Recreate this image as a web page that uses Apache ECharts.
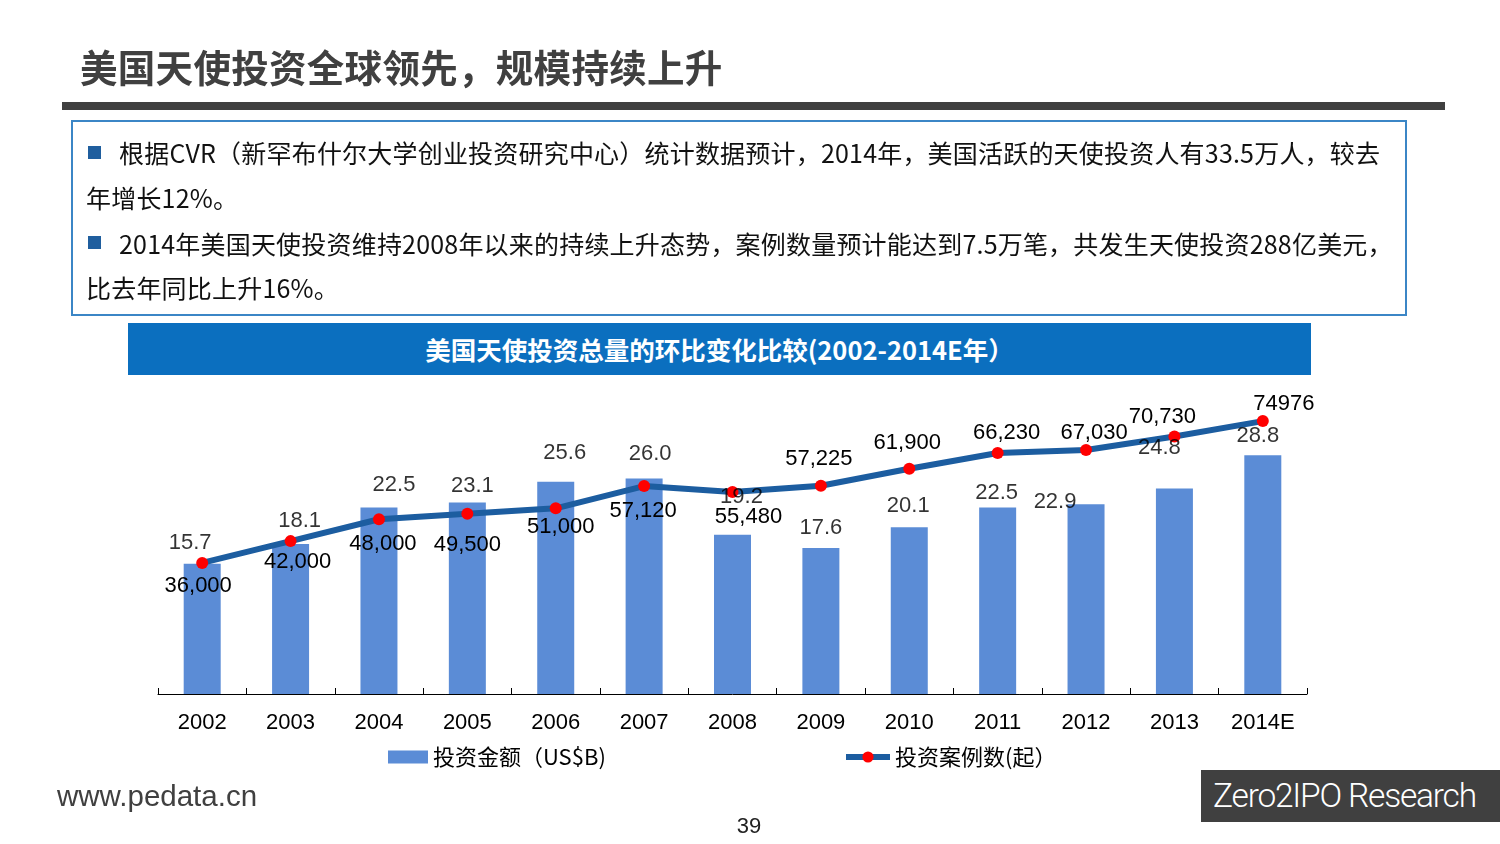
<!DOCTYPE html>
<html><head><meta charset="utf-8">
<script src="https://cdn.jsdelivr.net/npm/echarts@6/dist/echarts.min.js"></script>
<style>
html,body{margin:0;padding:0;width:1500px;height:844px;background:#fff;overflow:hidden;}
#chart{position:absolute;left:0;top:0;width:1500px;height:844px;}
.abs{position:absolute;white-space:nowrap;}
#title{left:80px;top:44px;font:bold 37.5px/44px "Noto Sans CJK SC",sans-serif;color:#404040;letter-spacing:0.3px;}
#rule{left:62px;top:102px;width:1383px;height:8px;background:#404040;}
#box{left:71px;top:120px;width:1332px;height:192px;border:2px solid #3B86C6;}
.ln{position:absolute;white-space:nowrap;font:25px/30px "Noto Sans CJK SC",sans-serif;color:#111;letter-spacing:0.2px;}
.bul{position:absolute;width:13px;height:13px;background:#1F5E9E;}
#hdr{left:128px;top:323px;width:1183px;height:52px;background:#0B6FBF;color:#fff;font:bold 25.5px/52px "Noto Sans CJK SC",sans-serif;text-align:center;}
#site{left:57px;top:779px;font:29.5px/34px "Liberation Sans",Arial,sans-serif;color:#404040;}
#page{left:729px;top:813px;width:40px;text-align:center;font:22px/26px "Liberation Sans",Arial,sans-serif;color:#222;}
#brand{left:1201px;top:770px;width:299px;height:52px;background:#404040;color:#fff;font:300 33.5px/52px Roboto,"Liberation Sans",sans-serif;letter-spacing:-1.2px;text-indent:12px;}
</style></head><body>
<div id="chart"></div>
<div class="abs" id="title">美国天使投资全球领先，规模持续上升</div>
<div class="abs" id="rule"></div>
<div class="abs" id="box"></div>
<div class="bul" style="left:88px;top:146px"></div>
<div class="ln" style="left:119px;top:137px">根据CVR（新罕布什尔大学创业投资研究中心）统计数据预计，2014年，美国活跃的天使投资人有33.5万人，较去</div>
<div class="ln" style="left:86px;top:182px">年增长12%。</div>
<div class="bul" style="left:88px;top:236px"></div>
<div class="ln" style="left:119px;top:228px">2014年美国天使投资维持2008年以来的持续上升态势，案例数量预计能达到7.5万笔，共发生天使投资288亿美元，</div>
<div class="ln" style="left:86px;top:272px">比去年同比上升16%。</div>
<div class="abs" id="hdr">美国天使投资总量的环比变化比较(2002-2014E年）</div>
<div class="abs" id="site">www.pedata.cn</div>
<div class="abs" id="page">39</div>
<div class="abs" id="brand">Zero2IPO Research</div>
<script>
// ---- data ----
const years = ['2002','2003','2004','2005','2006','2007','2008','2009','2010','2011','2012','2013','2014E'];
const amountUSD = [15.7,18.1,22.5,23.1,25.6,26.0,19.2,17.6,20.1,22.5,22.9,24.8,28.8];
const dealCount = [36000,42000,48000,49500,51000,57120,55480,57225,61900,66230,67030,70730,74976];
const seriesNames = ['投资金额（US$B)','投资案例数(起）'];

// ---- label layout (placement only) ----
const barLabelShift = [[-12,-21],[9,-23],[15,-23],[5,-17],[9,-29],[6,-25],[9,-38],[0,-20],[-1,-21],[-1,-15],[-31,-2],[-15,-40],[-5,-19]];
const lineLabelShift = [[-4,23],[7,21],[4,25],[0,31],[5,19],[-1,25],[16,25],[-2,-27],[-2,-26],[9,-20],[8,-17],[-12,-20],[21,-17]];

const numFont = '"Liberation Sans", Arial, sans-serif';
const cjkFont = '"Noto Sans CJK SC", sans-serif';

const chart = echarts.init(document.getElementById('chart'), null, {renderer:'canvas'});
chart.setOption({
  animation:false,
  grid:{left:158,right:193,top:362.4,bottom:150,containLabel:false},
  legend:[
    {data:[{name:seriesNames[0],icon:'rect'}],left:388,top:746,padding:0,itemWidth:40,itemHeight:13,
     textStyle:{fontFamily:cjkFont,fontSize:22,color:'#000'}},
    {data:[seriesNames[1]],left:843,top:746,padding:0,itemWidth:44,itemHeight:14,
     lineStyle:{width:6,color:'#1C5DA0'},
     textStyle:{fontFamily:cjkFont,fontSize:22,color:'#000'}}
  ],
  xAxis:{type:'category',data:years,boundaryGap:true,
    axisLine:{show:true,lineStyle:{color:'#000',width:1}},
    axisTick:{show:true,inside:true,length:6,lineStyle:{color:'#000'}},
    axisLabel:{fontFamily:numFont,fontSize:22,color:'#000',margin:18}},
  yAxis:[
    {type:'value',min:0,max:40,show:false,splitLine:{show:false}},
    {type:'value',min:0,max:91100,show:false,splitLine:{show:false}}
  ],
  series:[
    {name:seriesNames[0],type:'bar',yAxisIndex:0,barWidth:37,
     itemStyle:{color:'#5B8CD6'},
     data:amountUSD,
     z:2},
    {name:seriesNames[1],type:'line',yAxisIndex:1,
     symbol:'circle',symbolSize:12,
     lineStyle:{color:'#1C5DA0',width:6},
     itemStyle:{color:'#FF0000'},
     label:{show:true,position:'inside',fontFamily:numFont,fontSize:22,color:'#000',
       formatter:p=>p.dataIndex===years.length-1?String(p.value):Number(p.value).toLocaleString('en-US')},
     data:dealCount.map((v,i)=>({value:v,label:{offset:lineLabelShift[i]}})),
     z:3},
    {name:'barLabels',type:'scatter',yAxisIndex:0,symbolSize:1,silent:true,
     itemStyle:{color:'rgba(0,0,0,0)'},
     label:{show:true,position:'inside',fontFamily:numFont,fontSize:22,color:'#000',
       formatter:p=>Number(p.value).toFixed(1)},
     data:amountUSD.map((v,i)=>({value:v,label:{offset:barLabelShift[i]}})),
     z:5}
  ]
});
</script>
</body></html>
